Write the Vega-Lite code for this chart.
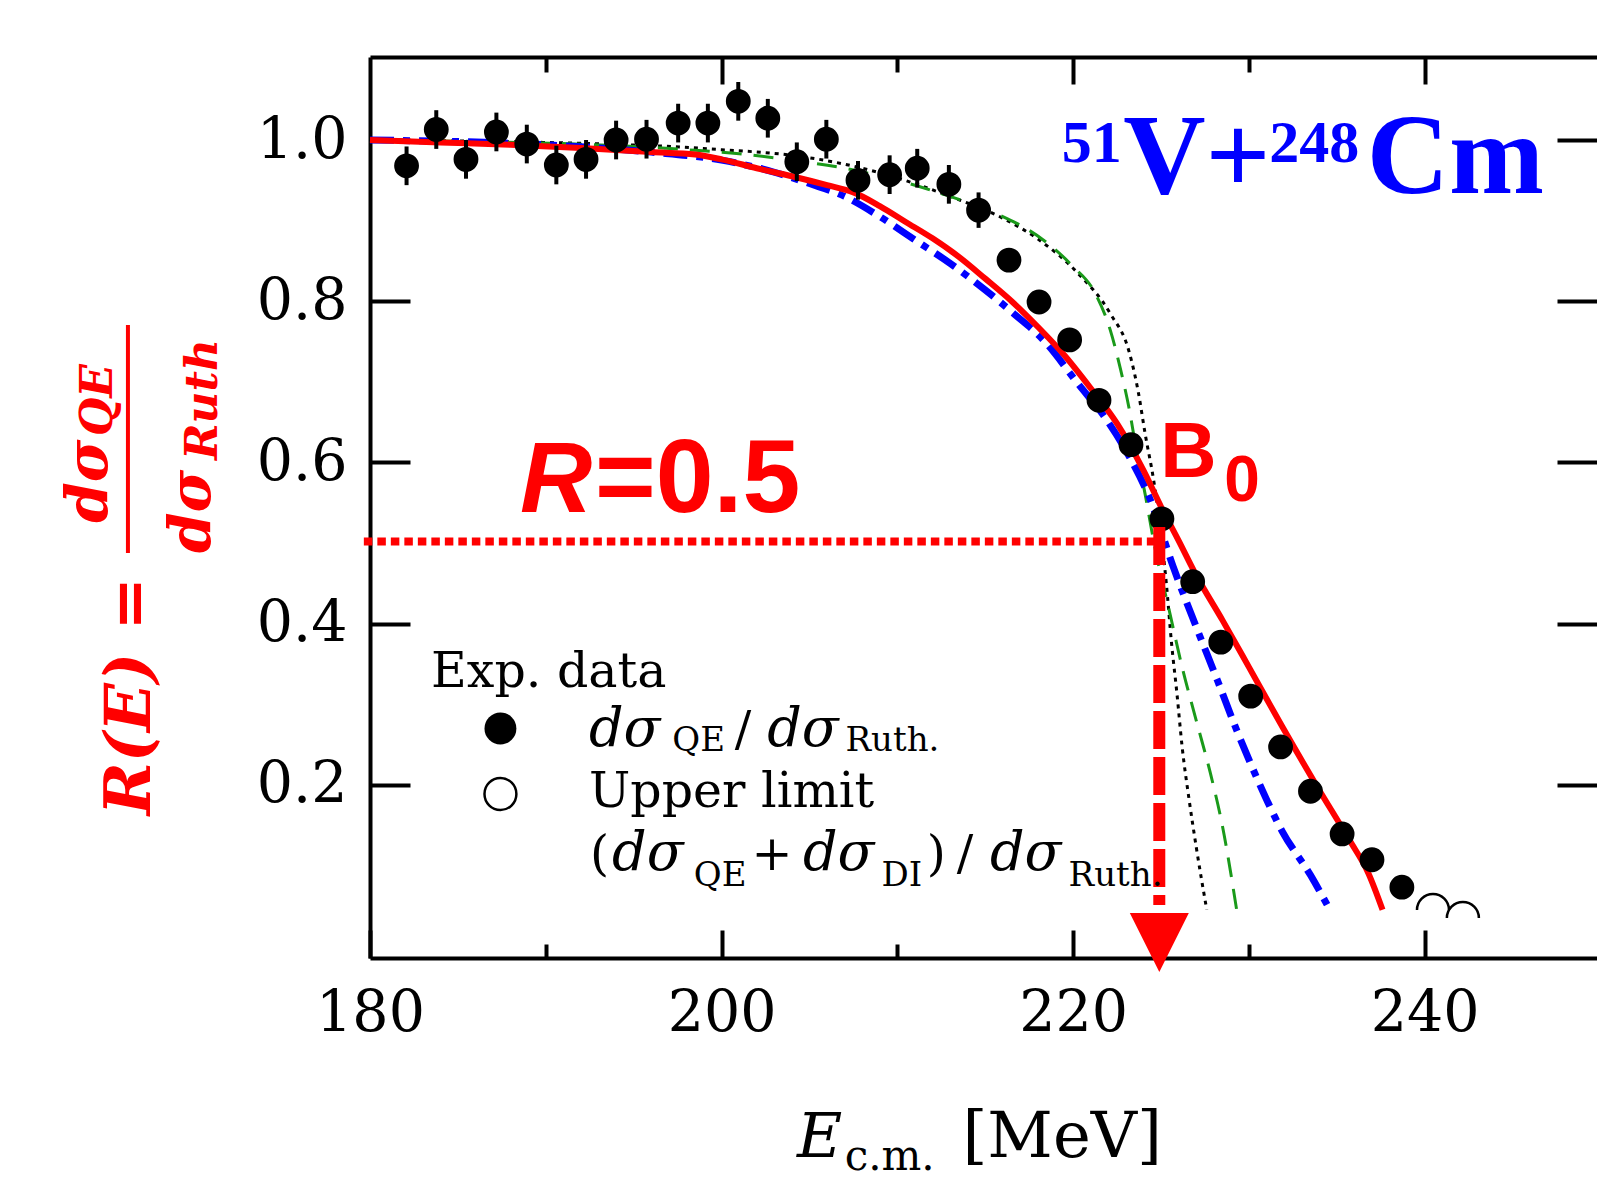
{
  "$schema": "https://vega.github.io/schema/vega-lite/v6.json",
  "width": 1227,
  "height": 901,
  "autosize": {"type": "none"},
  "padding": {"left": 370, "top": 57, "right": 0, "bottom": 222},
  "background": "white",
  "config": {
    "view": {"stroke": null},
    "axis": {"domainColor": "black", "tickColor": "black", "domainWidth": 4, "tickWidth": 4, "grid": false, "labelFont": "DejaVu Serif", "labelFontSize": 57, "labelColor": "black"}
  },
  "datasets": {
    "red": [
      {"E": 180, "R": 1.0}, {"E": 184, "R": 0.997}, {"E": 188, "R": 0.994}, {"E": 192, "R": 0.99}, {"E": 196, "R": 0.985},
      {"E": 198.5, "R": 0.982}, {"E": 200, "R": 0.976}, {"E": 202, "R": 0.965}, {"E": 204, "R": 0.955}, {"E": 206, "R": 0.944},
      {"E": 207.5, "R": 0.935}, {"E": 209, "R": 0.918}, {"E": 210.5, "R": 0.898}, {"E": 212, "R": 0.878}, {"E": 213.5, "R": 0.855},
      {"E": 215, "R": 0.828}, {"E": 216.5, "R": 0.8}, {"E": 218, "R": 0.768}, {"E": 219.5, "R": 0.733}, {"E": 221, "R": 0.692},
      {"E": 222.5, "R": 0.648}, {"E": 224, "R": 0.59}, {"E": 225, "R": 0.545}, {"E": 226, "R": 0.503}, {"E": 227, "R": 0.46},
      {"E": 228.5, "R": 0.404}, {"E": 230, "R": 0.346}, {"E": 231.9, "R": 0.272}, {"E": 233.9, "R": 0.197}, {"E": 235.7, "R": 0.132},
      {"E": 236.8, "R": 0.09}, {"E": 237.6, "R": 0.045}
    ],
    "blue": [
      {"E": 180, "R": 1.0}, {"E": 190, "R": 0.994}, {"E": 196, "R": 0.985}, {"E": 200, "R": 0.975}, {"E": 203, "R": 0.96},
      {"E": 205, "R": 0.946}, {"E": 207, "R": 0.93}, {"E": 209, "R": 0.905}, {"E": 211, "R": 0.876}, {"E": 213, "R": 0.847},
      {"E": 215, "R": 0.814}, {"E": 216.6, "R": 0.785}, {"E": 218.3, "R": 0.752}, {"E": 220.3, "R": 0.697}, {"E": 221.9, "R": 0.653},
      {"E": 223.2, "R": 0.607}, {"E": 224.4, "R": 0.553}, {"E": 225.7, "R": 0.47}, {"E": 227.0, "R": 0.396}, {"E": 228.2, "R": 0.33},
      {"E": 229.3, "R": 0.268}, {"E": 230.5, "R": 0.206}, {"E": 231.9, "R": 0.142}, {"E": 233.5, "R": 0.088}, {"E": 234.6, "R": 0.045}
    ],
    "green": [
      {"E": 180, "R": 1.0}, {"E": 195, "R": 0.992}, {"E": 198, "R": 0.988}, {"E": 201, "R": 0.983}, {"E": 204, "R": 0.975},
      {"E": 207, "R": 0.965}, {"E": 210, "R": 0.95}, {"E": 213, "R": 0.93}, {"E": 215.6, "R": 0.909}, {"E": 218.3, "R": 0.876},
      {"E": 219.9, "R": 0.845}, {"E": 221.3, "R": 0.808}, {"E": 222.1, "R": 0.765}, {"E": 222.7, "R": 0.715}, {"E": 223.2, "R": 0.665},
      {"E": 223.6, "R": 0.615}, {"E": 224.1, "R": 0.56}, {"E": 224.6, "R": 0.5}, {"E": 225.5, "R": 0.413}, {"E": 226.2, "R": 0.346},
      {"E": 227.0, "R": 0.28}, {"E": 227.8, "R": 0.215}, {"E": 228.5, "R": 0.148}, {"E": 229.3, "R": 0.045}
    ],
    "black": [
      {"E": 180, "R": 1.0}, {"E": 196, "R": 0.993}, {"E": 200, "R": 0.988}, {"E": 204, "R": 0.981}, {"E": 207, "R": 0.97},
      {"E": 210, "R": 0.953}, {"E": 213, "R": 0.93}, {"E": 216, "R": 0.903}, {"E": 218, "R": 0.877}, {"E": 220.3, "R": 0.834},
      {"E": 222.1, "R": 0.785}, {"E": 223.2, "R": 0.736}, {"E": 223.7, "R": 0.688}, {"E": 224.1, "R": 0.635}, {"E": 224.6, "R": 0.575},
      {"E": 225.0, "R": 0.51}, {"E": 225.3, "R": 0.45}, {"E": 225.6, "R": 0.375}, {"E": 225.9, "R": 0.314}, {"E": 226.2, "R": 0.247},
      {"E": 226.6, "R": 0.181}, {"E": 227.0, "R": 0.123}, {"E": 227.6, "R": 0.045}
    ],
    "points": [
      {"E": 182.08, "R": 0.968, "lo": 0.944, "hi": 0.992},
      {"E": 183.77, "R": 1.013, "lo": 0.989, "hi": 1.037},
      {"E": 185.46, "R": 0.976, "lo": 0.952, "hi": 1.0},
      {"E": 187.19, "R": 1.01, "lo": 0.986, "hi": 1.034},
      {"E": 188.92, "R": 0.995, "lo": 0.971, "hi": 1.019},
      {"E": 190.6, "R": 0.969, "lo": 0.945, "hi": 0.993},
      {"E": 192.29, "R": 0.976, "lo": 0.952, "hi": 1.0},
      {"E": 194.0, "R": 1.0, "lo": 0.976, "hi": 1.024},
      {"E": 195.73, "R": 1.001, "lo": 0.977, "hi": 1.025},
      {"E": 197.53, "R": 1.021, "lo": 0.997, "hi": 1.045},
      {"E": 199.22, "R": 1.021, "lo": 0.997, "hi": 1.045},
      {"E": 200.95, "R": 1.048, "lo": 1.024, "hi": 1.072},
      {"E": 202.63, "R": 1.027, "lo": 1.003, "hi": 1.051},
      {"E": 204.28, "R": 0.973, "lo": 0.949, "hi": 0.997},
      {"E": 205.96, "R": 1.001, "lo": 0.977, "hi": 1.025},
      {"E": 207.76, "R": 0.95, "lo": 0.926, "hi": 0.974},
      {"E": 209.56, "R": 0.957, "lo": 0.933, "hi": 0.981},
      {"E": 211.13, "R": 0.965, "lo": 0.941, "hi": 0.989},
      {"E": 212.93, "R": 0.945, "lo": 0.921, "hi": 0.969},
      {"E": 214.62, "R": 0.913, "lo": 0.891, "hi": 0.935},
      {"E": 216.35, "R": 0.851, "lo": 0.839, "hi": 0.863},
      {"E": 218.06, "R": 0.799, "lo": 0.787, "hi": 0.811},
      {"E": 219.8, "R": 0.752, "lo": 0.74, "hi": 0.764},
      {"E": 221.47, "R": 0.677, "lo": 0.665, "hi": 0.689},
      {"E": 223.29, "R": 0.622, "lo": 0.61, "hi": 0.634},
      {"E": 225.05, "R": 0.53, "lo": 0.518, "hi": 0.542},
      {"E": 226.8, "R": 0.452, "lo": 0.44, "hi": 0.464},
      {"E": 228.4, "R": 0.377, "lo": 0.365, "hi": 0.389},
      {"E": 230.1, "R": 0.31, "lo": 0.298, "hi": 0.322},
      {"E": 231.8, "R": 0.247, "lo": 0.235, "hi": 0.259},
      {"E": 233.5, "R": 0.192, "lo": 0.18, "hi": 0.204},
      {"E": 235.3, "R": 0.139, "lo": 0.127, "hi": 0.151},
      {"E": 237.0, "R": 0.107, "lo": 0.095, "hi": 0.119},
      {"E": 238.7, "R": 0.073, "lo": 0.061, "hi": 0.085}
    ],
    "upper": [
      {"E": 240.47, "R": 0.0447},
      {"E": 242.17, "R": 0.0347}
    ]
  },
  "encoding": {
    "x": {"field": "E", "type": "quantitative", "scale": {"domain": [180, 249.8], "nice": false, "zero": false}, "axis": null},
    "y": {"field": "R", "type": "quantitative", "scale": {"domain": [-0.0149, 1.103], "nice": false, "zero": false}, "axis": null}
  },
  "layer": [
    {
      "data": {"values": [{"E": 200, "R": 0.5}]},
      "mark": {"type": "point", "opacity": 0},
      "encoding": {
        "x": {"field": "E", "type": "quantitative", "scale": {"domain": [180, 249.8], "nice": false, "zero": false},
              "axis": {"orient": "bottom", "values": [180, 200, 220, 240], "tickSize": -28, "labelPadding": 100, "labelBaseline": "alphabetic", "labelFlush": false, "labelOverlap": false, "format": "d", "title": null, "domain": true}},
        "y": {"field": "R", "type": "quantitative", "scale": {"domain": [-0.0149, 1.103], "nice": false, "zero": false},
              "axis": {"orient": "left", "values": [0.2, 0.4, 0.6, 0.8, 1.0], "tickSize": -40, "labelPadding": 63, "labelFlush": false, "labelOverlap": false, "format": ".1f", "title": null, "domain": true}}
      }
    },
    {
      "data": {"values": [{"E": 200, "R": 0.5}]},
      "mark": {"type": "point", "opacity": 0},
      "encoding": {
        "x": {"field": "E", "type": "quantitative", "scale": {"domain": [180, 249.8], "nice": false, "zero": false},
              "axis": {"orient": "bottom", "values": [190, 210, 230], "tickSize": -14, "labels": false, "domain": false, "title": null}},
        "y": {"field": "R", "type": "quantitative", "scale": {"domain": [-0.0149, 1.103], "nice": false, "zero": false},
              "axis": {"orient": "right", "values": [0.2, 0.4, 0.6, 0.8, 1.0], "tickSize": -40, "labels": false, "domain": false, "title": null}}
      }
    },
    {
      "data": {"values": [{"E": 200, "R": 0.5}]},
      "mark": {"type": "point", "opacity": 0},
      "encoding": {
        "x": {"field": "E", "type": "quantitative", "scale": {"domain": [180, 249.8], "nice": false, "zero": false},
              "axis": {"orient": "top", "values": [200, 220, 240], "tickSize": -27, "labels": false, "domain": true, "title": null}}
      }
    },
    {
      "data": {"values": [{"E": 200, "R": 0.5}]},
      "mark": {"type": "point", "opacity": 0},
      "encoding": {
        "x": {"field": "E", "type": "quantitative", "scale": {"domain": [180, 249.8], "nice": false, "zero": false},
              "axis": {"orient": "top", "values": [190, 210, 230], "tickSize": -15, "labels": false, "domain": false, "title": null}}
      }
    },
    {"data": {"name": "black"}, "mark": {"type": "line", "color": "black", "strokeWidth": 3, "strokeDash": [4, 5], "interpolate": "monotone"}},
    {"data": {"name": "green"}, "mark": {"type": "line", "color": "#1a9a1a", "strokeWidth": 3, "strokeDash": [20, 12], "interpolate": "monotone"}},
    {"data": {"name": "blue"}, "mark": {"type": "line", "color": "#0000ff", "strokeWidth": 7, "strokeDash": [24, 9, 7, 9], "interpolate": "monotone"}},
    {"data": {"name": "red"}, "mark": {"type": "line", "color": "#ff0000", "strokeWidth": 6, "interpolate": "monotone"}},
    {
      "data": {"name": "points"},
      "mark": {"type": "rule", "color": "black", "strokeWidth": 4},
      "encoding": {
        "y": {"field": "lo", "type": "quantitative", "scale": {"domain": [-0.0149, 1.103], "nice": false, "zero": false}, "axis": null},
        "y2": {"field": "hi"}
      }
    },
    {"data": {"name": "points"}, "mark": {"type": "point", "shape": "circle", "filled": true, "color": "black", "opacity": 1, "size": 616}},
    {"data": {"name": "upper"}, "mark": {"type": "point", "shape": "M-1,0A1,1,0,0,1,1,0", "filled": false, "color": "black", "strokeWidth": 2.5, "opacity": 1, "size": 1024}},
    {
      "data": {"values": [{"E": 179.65, "R": 0.502, "E2": 224.9}]},
      "mark": {"type": "rule", "color": "#ff0000", "strokeWidth": 8, "strokeDash": [8.5, 5]},
      "encoding": {"x2": {"field": "E2"}}
    },
    {
      "data": {"values": [{"E": 224.9, "R": 0.52, "R2": 0.051}]},
      "mark": {"type": "rule", "color": "#ff0000", "strokeWidth": 12, "strokeDash": [38, 8]},
      "encoding": {"y2": {"field": "R2"}}
    },
    {
      "data": {"values": [{"E": 224.9, "R": 0.0043}]},
      "mark": {"type": "point", "shape": "M-1,-1L1,-1L0,1Z", "filled": true, "color": "#ff0000", "opacity": 1, "size": 3481}
    },
    {
      "data": {"values": [{"E": 187.42, "R": 0.2699}]},
      "mark": {"type": "point", "shape": "circle", "filled": true, "color": "black", "opacity": 1, "size": 1018}
    },
    {
      "data": {"values": [{"E": 187.42, "R": 0.1886}]},
      "mark": {"type": "point", "shape": "circle", "filled": false, "color": "black", "strokeWidth": 2.5, "opacity": 1, "size": 1018}
    },
    {
      "data": {"values": [
        {"E": 183.47, "R": 0.3213, "t": "Exp. data"},
        {"E": 192.46, "R": 0.1725, "t": "Upper limit"},
        {"E": 192.51, "R": 0.0943, "t": "("},
        {"E": 201.7, "R": 0.0943, "t": "+"},
        {"E": 211.67, "R": 0.0943, "t": ")"},
        {"E": 213.38, "R": 0.0943, "t": "/"},
        {"E": 200.75, "R": 0.2481, "t": "/"}
      ]},
      "mark": {"type": "text", "font": "DejaVu Serif", "fontSize": 49, "align": "left", "baseline": "alphabetic", "color": "black"},
      "encoding": {"text": {"field": "t"}}
    },
    {
      "data": {"values": [
        {"E": 192.46, "R": 0.2481, "t": "dσ"},
        {"E": 202.6, "R": 0.2481, "t": "dσ"},
        {"E": 193.77, "R": 0.0943, "t": "dσ"},
        {"E": 204.63, "R": 0.0943, "t": "dσ"},
        {"E": 215.27, "R": 0.0943, "t": "dσ"}
      ]},
      "mark": {"type": "text", "font": "DejaVu Serif", "fontStyle": "italic", "fontSize": 54, "align": "left", "baseline": "alphabetic", "color": "black"},
      "encoding": {"text": {"field": "t"}}
    },
    {
      "data": {"values": [
        {"E": 197.2, "R": 0.242, "t": "QE"},
        {"E": 207.05, "R": 0.242, "t": "Ruth."},
        {"E": 198.42, "R": 0.0745, "t": "QE"},
        {"E": 209.1, "R": 0.0745, "t": "DI"},
        {"E": 219.74, "R": 0.0745, "t": "Ruth."}
      ]},
      "mark": {"type": "text", "font": "DejaVu Serif", "fontSize": 34, "align": "left", "baseline": "alphabetic", "color": "black"},
      "encoding": {"text": {"field": "t"}}
    },
    {
      "data": {"values": [{"E": 204.29, "R": -0.2618, "t": "E"}]},
      "mark": {"type": "text", "font": "DejaVu Serif", "fontStyle": "italic", "fontSize": 62, "align": "left", "baseline": "alphabetic", "color": "black"},
      "encoding": {"text": {"field": "t"}}
    },
    {
      "data": {"values": [{"E": 207.0, "R": -0.2779, "t": "c.m."}]},
      "mark": {"type": "text", "font": "DejaVu Serif", "fontSize": 42, "align": "left", "baseline": "alphabetic", "color": "black"},
      "encoding": {"text": {"field": "t"}}
    },
    {
      "data": {"values": [{"E": 213.7, "R": -0.2618, "t": "[MeV]"}]},
      "mark": {"type": "text", "font": "DejaVu Serif", "fontSize": 64, "align": "left", "baseline": "alphabetic", "color": "black"},
      "encoding": {"text": {"field": "t"}}
    },
    {
      "data": {"values": [{"E": 167.49, "R": 0.31, "t": "R(E) ="}]},
      "mark": {"type": "text", "font": "DejaVu Serif", "fontStyle": "italic", "fontWeight": "bold", "fontSize": 64, "angle": 270, "align": "center", "baseline": "alphabetic", "color": "#ff0000"},
      "encoding": {"text": {"field": "t"}}
    },
    {
      "data": {"values": [
        {"E": 165.04, "R": 0.525, "t": "dσ"},
        {"E": 170.9, "R": 0.4876, "t": "dσ"}
      ]},
      "mark": {"type": "text", "font": "DejaVu Serif", "fontStyle": "italic", "fontWeight": "bold", "fontSize": 58, "angle": 270, "align": "left", "baseline": "alphabetic", "color": "#ff0000"},
      "encoding": {"text": {"field": "t"}}
    },
    {
      "data": {"values": [
        {"E": 165.3, "R": 0.6328, "t": "QE"},
        {"E": 171.29, "R": 0.603, "t": "Ruth"}
      ]},
      "mark": {"type": "text", "font": "DejaVu Serif", "fontStyle": "italic", "fontWeight": "bold", "fontSize": 44, "angle": 270, "align": "left", "baseline": "alphabetic", "color": "#ff0000"},
      "encoding": {"text": {"field": "t"}}
    },
    {
      "data": {"values": [{"E": 166.23, "R": 0.7705, "R2": 0.4876}]},
      "mark": {"type": "rule", "color": "#ff0000", "strokeWidth": 4},
      "encoding": {"y2": {"field": "R2"}}
    },
    {
      "data": {"values": [{"E": 188.53, "R": 0.5385, "t": "R"}]},
      "mark": {"type": "text", "font": "Liberation Sans", "fontStyle": "italic", "fontWeight": "bold", "fontSize": 100, "align": "left", "baseline": "alphabetic", "color": "#ff0000"},
      "encoding": {"text": {"field": "t"}}
    },
    {
      "data": {"values": [{"E": 192.8, "R": 0.5385, "t": "=0.5"}]},
      "mark": {"type": "text", "font": "Liberation Sans", "fontWeight": "bold", "fontSize": 104, "align": "left", "baseline": "alphabetic", "color": "#ff0000"},
      "encoding": {"text": {"field": "t"}}
    },
    {
      "data": {"values": [{"E": 224.95, "R": 0.5819, "t": "B"}]},
      "mark": {"type": "text", "font": "Liberation Sans", "fontWeight": "bold", "fontSize": 78, "align": "left", "baseline": "alphabetic", "color": "#ff0000"},
      "encoding": {"text": {"field": "t"}}
    },
    {
      "data": {"values": [{"E": 228.6, "R": 0.5521, "t": "0"}]},
      "mark": {"type": "text", "font": "Liberation Sans", "fontWeight": "bold", "fontSize": 64, "align": "left", "baseline": "alphabetic", "color": "#ff0000"},
      "encoding": {"text": {"field": "t"}}
    },
    {
      "data": {"values": [
        {"E": 222.85, "R": 0.9342, "t": "V+"},
        {"E": 236.7, "R": 0.9342, "t": "Cm"}
      ]},
      "mark": {"type": "text", "font": "Liberation Serif", "fontWeight": "bold", "fontSize": 114, "align": "left", "baseline": "alphabetic", "color": "#0000ff"},
      "encoding": {"text": {"field": "t"}}
    },
    {
      "data": {"values": [
        {"E": 219.35, "R": 0.9727, "t": "51"},
        {"E": 231.15, "R": 0.9727, "t": "248"}
      ]},
      "mark": {"type": "text", "font": "Liberation Serif", "fontWeight": "bold", "fontSize": 60, "align": "left", "baseline": "alphabetic", "color": "#0000ff"},
      "encoding": {"text": {"field": "t"}}
    }
  ],
  "resolve": {"axis": {"x": "independent", "y": "independent"}}
}
